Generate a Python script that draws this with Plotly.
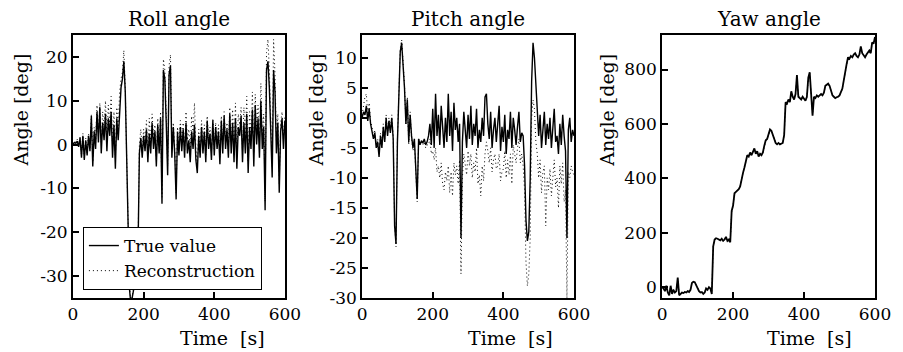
import plotly.graph_objects as go

# ---------------- data ----------------
time_s = list(range(0, 601, 4))

roll_true = [
    0.0, 0.5, 0.3, 0.8, -0.5, 1.5, -3.0, 2.0, -3.5, 1.0,
    -2.5, 2.0, -1.5, 6.5, -5.0, 3.0, -1.0, 7.5, 0.5, 8.5,
    -2.0, 5.0, 1.0, 7.0, -1.5, 6.0, 2.0, 7.5, -3.0, 4.5,
    -5.5, 6.0, 1.0, 9.0, 13.0, 15.0, 19.0, 12.0, -4.0, -20.0,
    -33.0, -36.5, -35.0, -33.0, -31.0, -29.0, -25.0, -2.0, 1.5, -3.0,
    2.0, -1.5, 3.5, -4.0, 2.5, -2.0, 5.0, -1.0, 3.0, -5.0,
    4.5, -2.0, 6.0, -13.5, 17.0, 15.0, 5.0, -7.0, 16.0, 18.0,
    -3.0, 4.0, -2.0, -12.5, 3.0, -2.5, 4.0, -1.5, 3.5, -3.0,
    5.0, -2.0, 1.0, -4.0, 3.0, -1.0, 4.5, -3.5, -6.5, 2.0,
    -3.0, 4.0, -2.0, 3.0, -4.0, 5.5, -1.0, 2.5, -3.5, 5.5,
    -2.5, 4.0, -1.0, 3.0, -4.5, 5.5, -2.0, 6.5, -1.0, 3.5,
    -3.0, 7.0, -2.0, 5.0, -4.0, 6.0, -5.5, 4.0, 2.0, 6.5,
    -4.0, 5.0, -2.0, 7.0, -6.5, 4.0, -1.0, 8.0, -5.0, 9.0,
    0.0, 6.0, -3.0, 10.0, -1.0, 4.0, -15.0, 17.0, 19.0, 13.0,
    3.0, -7.5, 17.0, 12.0, -2.0, 5.0, -11.0, 3.0, 6.0, -1.0,
    5.5,
]
roll_recon = [
    0.2, 0.8, 0.5, 1.2, 0.0, 2.0, -2.5, 2.5, -3.0, 1.5,
    -2.0, 2.5, -1.0, 7.0, -4.0, 4.0, 0.5, 9.0, 2.0, 9.5,
    0.5, 7.5, 3.5, 10.0, 1.5, 9.0, 4.5, 11.0, -0.5, 7.5,
    -3.0, 8.5, 3.5, 12.0, 15.0, 16.5, 21.5, 13.0, -3.0, -19.0,
    -32.0, -36.0, -34.5, -32.0, -30.0, -28.0, -24.0, 0.0, 3.5, -1.0,
    3.5, 0.5, 5.5, -2.0, 6.0, 0.5, 7.0, 1.5, 4.5, -3.5,
    6.0, -0.5, 7.5, -12.0, 19.5, 17.0, 7.0, -5.0, 18.0, 20.5,
    -1.0, 5.0, -0.5, -11.0, 4.0, -1.0, 5.5, 0.5, 5.0, -1.5,
    7.5, 1.0, 3.5, -1.5, 6.5, 2.5, 9.5, -1.0, -5.0, 3.5,
    -1.5, 5.5, 0.0, 4.5, -2.5, 6.5, 0.5, 4.0, -2.0, 6.0,
    -1.0, 5.0, 0.5, 4.5, -3.0, 6.5, 0.0, 7.5, 1.0, 5.0,
    -1.0, 8.5, 0.5, 8.0, -1.5, 9.5, -3.0, 7.0, 4.5, 8.5,
    -1.5, 8.5, 1.0, 11.0, -4.0, 7.5, 2.0, 12.0, -2.0, 11.5,
    3.0, 9.0, 0.5, 14.0, 2.0, 7.0, -13.0, 21.0, 24.0, 17.0,
    6.0, -5.0, 24.0, 16.0, 1.0, 7.0, -9.0, 5.0, 7.5, 1.0,
    6.5,
]

pitch_true = [
    0.0, 1.0, 0.5, 2.0, -0.5, 1.5, -1.0, -2.0, -3.5, -2.5,
    -5.0, -4.0, -6.5, -3.0, -5.0, -1.5, -4.0, 0.0, -3.0, -0.5,
    -2.5, 0.0, -3.5, -18.0, -21.0, -4.0, 6.0, 11.0, 12.5, 9.0,
    5.0, -1.0, 3.0, -4.0, 0.5, -3.0, -5.0, -3.5, -8.0, -13.5,
    -3.5, -4.5, -3.8, -4.2, -3.5, -4.5, -4.0, -3.0, -1.0, -4.5,
    1.5, -5.0, 4.0, -3.0, 0.5, -4.5, 2.0, -2.0, -5.0, 0.0,
    -4.0, 4.0, -3.0, 1.0, -5.5, 2.5, -2.0, 0.0, -4.0, -1.0,
    -20.0, -4.0, 1.0, -2.0, -5.0, 0.5, -3.5, 2.0, -4.5, -1.0,
    -3.0, 1.5, -5.0, -2.0, -4.0, 0.0, -3.0, 3.5, 4.0, -1.0,
    -3.5, 1.0, -5.0, -2.0, 0.0, -4.0, -1.0, 2.0, -5.5, -1.5,
    -4.0, 0.5, -6.0, -2.0, -3.5, 1.0, -5.0, 0.0, -2.0, -4.5,
    -1.5, 1.0, -4.0, -2.5, -3.0, -8.0, -17.0, -20.5, -19.0, -10.0,
    6.0, 12.5, 10.0, 5.0, 2.0, -3.0, 0.5, -5.0, -2.0, 1.0,
    -4.5, -1.0, -3.5, 0.0, -5.0, -2.0, 1.5, -4.0, -3.0, -6.0,
    -1.0, -4.5, 0.5, -3.0, -5.5, -20.0, -2.0, 0.0, -4.0, -2.0,
    -3.0,
]
pitch_recon = [
    0.5, 2.0, 3.5, 4.0, 0.5, 2.5, -0.5, -1.5, -3.0, -2.0,
    -4.5, -3.5, -6.0, -2.5, -4.5, -1.0, -3.5, 0.5, -2.5, 0.0,
    -2.0, 0.5, -3.0, -17.5, -21.5, -3.5, 6.5, 11.5, 13.0, 9.5,
    5.5, -1.0, 3.5, -4.5, 1.0, -3.5, -5.5, -4.0, -8.5, -14.0,
    -3.5, -4.0, -4.0, -4.5, -4.0, -5.0, -4.5, -4.5, -3.5, -6.0,
    -5.5, -7.0, -5.0, -9.0, -8.0, -10.0, -7.5, -11.0, -12.0, -9.0,
    -10.5, -8.0, -12.5, -9.0, -13.0, -7.5, -9.5, -8.0, -11.0, -7.0,
    -26.0, -10.0, -6.0, -8.0, -9.5, -5.5, -8.0, -6.0, -10.0, -7.5,
    -9.0, -5.0, -11.0, -9.5, -13.0, -8.0, -10.5, -6.0, -4.0, -5.5,
    -7.5, -5.0, -9.0, -7.0, -6.0, -8.5, -8.0, -6.0, -10.5, -9.0,
    -8.5, -5.5, -10.0, -7.0, -9.5, -6.0, -11.0, -4.5, -6.5, -7.5,
    -5.0, -3.5, -7.5, -6.0, -8.0, -12.0, -24.0, -28.0, -26.0, -20.0,
    0.0, 3.0, 1.5, -4.0, -6.0, -10.0, -7.0, -12.5, -9.0, -8.0,
    -18.0, -10.0, -12.0, -8.5, -13.0, -9.0, -7.0, -11.5, -10.0, -15.0,
    -8.0, -11.0, -7.5, -14.0, -12.0, -30.0, -9.0, -10.0, -8.0, -9.0,
    -9.5,
]

yaw_true = [
    0, -5, -15, 5, -20, -30, 5, -25, -10, -20,
    -15, 35, -30, -25, -20, -22, -18, -20, -15, -18,
    -10, 15, 20, 18, 5, -5, -15, -20, -18, -25,
    -20, -5, -10, 0, -5, -25, 150, 175, 180, 178,
    175, 172, 178, 170, 175, 185, 170, 175, 165, 280,
    300, 345, 350, 355, 360, 370, 400, 420, 440, 470,
    485, 480, 495, 485, 495, 510, 490, 500, 480, 490,
    485, 495, 520, 540, 545, 560, 580, 575, 560, 545,
    530, 525, 530, 525, 528, 530, 560, 680, 675, 690,
    680, 720, 700, 690, 710, 780, 700, 695, 690, 700,
    690, 685, 700, 770, 790, 690, 630, 700, 695, 705,
    700, 705, 710, 705, 715, 740, 745, 748, 740, 720,
    705, 700, 695, 698, 700, 705, 715, 730, 760, 800,
    820, 845, 840, 850, 845, 855, 860, 850, 845, 855,
    885, 860, 850, 845, 855, 865, 870, 860, 900, 895,
    920,
]
yaw_recon = [
    2, -3, -12, 3, -18, -28, 2, -22, -8, -18,
    -12, 30, -27, -22, -18, -20, -16, -18, -13, -16,
    -8, 14, 19, 17, 6, -3, -13, -18, -16, -22,
    -18, -4, -8, 1, -4, -22, 148, 173, 178, 177,
    174, 171, 176, 170, 174, 183, 171, 174, 167, 276,
    302, 343, 351, 354, 361, 372, 398, 421, 441, 468,
    484, 482, 493, 487, 494, 508, 492, 499, 482, 491,
    487, 494, 518, 538, 546, 558, 578, 576, 561, 547,
    532, 526, 529, 526, 529, 531, 558, 677, 676, 688,
    681, 717, 701, 692, 708, 776, 702, 696, 692, 699,
    691, 687, 699, 766, 786, 692, 635, 698, 696, 704,
    701, 704, 709, 706, 714, 738, 744, 746, 739, 721,
    706, 701, 697, 699, 701, 706, 714, 731, 758, 798,
    818, 843, 841, 848, 846, 853, 859, 851, 846, 854,
    881, 861, 851, 847, 854, 864, 868, 861, 897, 894,
    917,
]

titles = ["Roll angle", "Pitch angle", "Yaw angle"]
x_ticks = [0, 200, 400, 600]
x_ticktext = ["0", "200", "400", "600"]
roll_ticks = [-30, -20, -10, 0, 10, 20]
pitch_ticks = [-30, -25, -20, -15, -10, -5, 0, 5, 10]
yaw_ticks = [0, 200, 400, 600, 800]

# ---------------- layout helpers ----------------
W, H = 903, 352
ML, MR, MT, MB = 73, 20, 35, 54
PW, PH = W - ML - MR, H - MT - MB


def px(xp):
    return (xp - ML) / PW


def py(yp):
    return (H - MB - yp) / PH


FONT = "DejaVu Serif"
domains = [(px(73), px(287)), (px(365), px(579)), (px(668), px(883))]
yranges = [[-35, 25], [-30, 13.8], [-40, 927]]
yticks = [roll_ticks, pitch_ticks, yaw_ticks]
series = [(roll_true, roll_recon), (pitch_true, pitch_recon), (yaw_true, yaw_recon)]
true_widths = [1.4, 1.4, 1.8]

fig = go.Figure()
for i, (tr, rc) in enumerate(series):
    sfx = "" if i == 0 else str(i + 1)
    fig.add_trace(go.Scatter(
        x=time_s, y=tr, mode="lines", name="True value",
        line=dict(color="black", width=true_widths[i]),
        xaxis="x" + sfx, yaxis="y" + sfx, showlegend=(i == 0)))
    fig.add_trace(go.Scatter(
        x=time_s, y=rc, mode="lines", name="Reconstruction",
        line=dict(color="black", width=1, dash="1px,3px"),
        xaxis="x" + sfx, yaxis="y" + sfx, showlegend=(i == 0)))

axis_common = dict(
    showline=True, linecolor="black", linewidth=1.8, mirror=True,
    ticks="inside", ticklen=6, tickwidth=1.5, tickcolor="black",
    showgrid=False, zeroline=False,
    tickfont=dict(family=FONT, size=17, color="black"),
)
layout = dict(
    width=W, height=H, margin=dict(l=ML, r=MR, t=MT, b=MB),
    paper_bgcolor="white", plot_bgcolor="white",
    font=dict(family=FONT, color="black"),
    legend=dict(
        x=px(83), y=py(290), xanchor="left", yanchor="bottom",
        bordercolor="black", borderwidth=1, bgcolor="white",
        font=dict(family=FONT, size=17, color="black"),
        tracegroupgap=0,
    ),
)
for i in range(3):
    sfx = "" if i == 0 else str(i + 1)
    layout["xaxis" + sfx] = dict(
        axis_common, domain=list(domains[i]), range=[0, 600],
        tickvals=x_ticks, ticktext=x_ticktext,
        anchor="y" + sfx)
    layout["yaxis" + sfx] = dict(
        axis_common, domain=[0, 1], range=yranges[i],
        tickvals=yticks[i], ticktext=[str(v) for v in yticks[i]],
        anchor="x" + sfx)
fig.update_layout(**layout)

ann = []
title_cx = [180, 472, 776]
xlab_cx = [224, 515, 817]
ylab_cx = [20, 318, 612]
for i in range(3):
    ann.append(dict(text=titles[i], x=px(title_cx[i]), y=py(19), xref="paper", yref="paper",
                    xanchor="center", yanchor="middle", showarrow=False,
                    font=dict(family=FONT, size=20, color="black")))
    ann.append(dict(text="Time\u00a0\u00a0[s]", x=px(xlab_cx[i]), y=py(338), xref="paper", yref="paper",
                    xanchor="center", yanchor="middle", showarrow=False,
                    font=dict(family=FONT, size=19, color="black")))
    ann.append(dict(text="Angle [deg]", x=px(ylab_cx[i]), y=py(110), xref="paper", yref="paper",
                    xanchor="center", yanchor="middle", showarrow=False, textangle=-90,
                    font=dict(family=FONT, size=19, color="black")))
fig.update_layout(annotations=ann)

fig.write_html("out.html")
